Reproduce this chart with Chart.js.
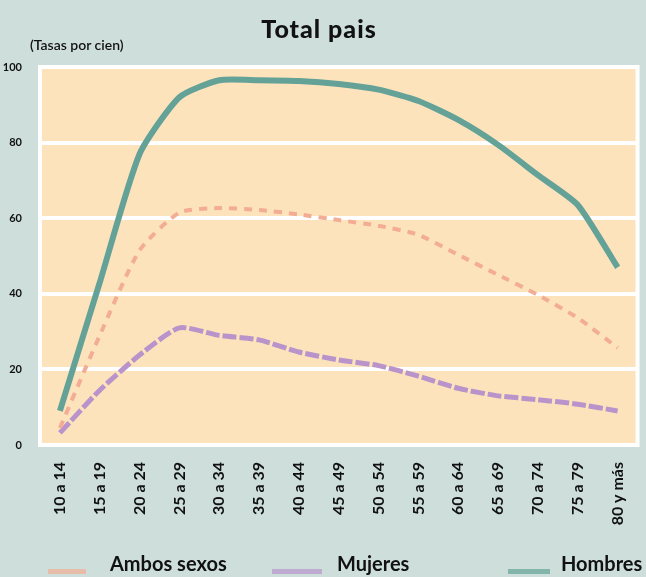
<!DOCTYPE html>
<html>
<head>
<meta charset="utf-8">
<script src="https://cdn.jsdelivr.net/npm/chart.js@4/dist/chart.umd.min.js"></script>
<style>
  html, body { margin: 0; padding: 0; background: #cedfdb; }
  #wrap { position: relative; width: 646px; height: 577px; font-family: Lato, "Open Sans", sans-serif; color: #111; overflow: hidden; }
  #chart { position: absolute; left: 0; top: 0; }
  .title { position: absolute; left: 0; width: 638px; top: 13px; text-align: center; font-weight: 900; font-size: 25px; letter-spacing: 1px; }
  .sub { position: absolute; left: 30px; top: 36px; font-size: 14px; font-weight: 600; }
  .leg { position: absolute; top: 551px; font-weight: 700; font-size: 20px; white-space: nowrap; }
  .sw { position: absolute; top: 569px; height: 5px; }
</style>
</head>
<body>
<div id="wrap">
  <canvas id="chart" width="646" height="577"></canvas>
  <div class="title">Total pais</div>
  <div class="sub">(Tasas por cien)</div>
  <div id="legend"></div>
</div>
<script>
const categories = ['10 a 14', '15 a 19', '20 a 24', '25 a 29', '30 a 34', '35 a 39', '40 a 44',
  '45 a 49', '50 a 54', '55 a 59', '60 a 64', '65 a 69', '70 a 74', '75 a 79', '80 y más'];
const ambosSexos = [4.5, 29, 51.5, 61.5, 62.7, 62.2, 61, 59.5, 58, 55.6, 50.3, 45, 39.7, 33.6, 25.7];
const mujeres = [3.2, 14.5, 23.8, 31, 29, 27.8, 24.6, 22.5, 21, 18.2, 15, 13, 12, 10.8, 9];
const hombres = [9, 43, 77, 92, 96.5, 96.5, 96.3, 95.5, 94, 91, 86, 79.4, 71.4, 63.5, 47];
const yTicks = [0, 20, 40, 60, 80, 100];

const series = [
  { label: 'Ambos sexos', data: ambosSexos, color: '#f2ad94', width: 4, dash: [8, 7] },
  { label: 'Mujeres', data: mujeres, color: '#b994cb', width: 5, dash: [14, 3] },
  { label: 'Hombres', data: hombres, color: '#64a297', width: 6, dash: [] }
];

const plotBg = {
  id: 'plotBg',
  beforeDraw(chart) {
    const { ctx, chartArea: a } = chart;
    ctx.save();
    ctx.fillStyle = '#fde3bc';
    ctx.fillRect(a.left, a.top, a.right - a.left, a.bottom - a.top);
    ctx.restore();
  },
  beforeDatasetsDraw(chart) {
    const { ctx, chartArea: a } = chart;
    ctx.save();
    ctx.strokeStyle = '#ffffff';
    ctx.lineWidth = 4;
    ctx.strokeRect(a.left, a.top, a.right - a.left, a.bottom - a.top);
    ctx.restore();
  }
};

new Chart(document.getElementById('chart'), {
  type: 'line',
  data: {
    labels: categories,
    datasets: series.map(s => ({
      label: s.label,
      data: s.data,
      borderColor: s.color,
      borderWidth: s.width,
      borderDash: s.dash,
      pointRadius: 0,
      tension: 0.2,
      fill: false
    }))
  },
  options: {
    responsive: false,
    animation: false,
    layout: { padding: { top: 67, right: 5, bottom: 42, left: 0 } },
    plugins: { legend: { display: false }, tooltip: { enabled: false } },
    scales: {
      x: {
        offset: true,
        grid: { display: false },
        border: { display: false },
        afterFit: s => { s.height = 90; },
        ticks: {
          minRotation: 90, maxRotation: 90, padding: 9,
          color: '#111', font: { family: 'Lato', weight: 'bold', size: 16 }
        }
      },
      y: {
        min: 0, max: 100,
        afterFit: s => { s.width = 40; },
        afterBuildTicks: s => { s.ticks = yTicks.map(v => ({ value: v })); },
        grid: { color: '#ffffff', lineWidth: 4, drawTicks: false },
        border: { display: false },
        ticks: {
          padding: 18,
          color: '#111', font: { family: 'Lato', weight: 'bold', size: 11 }
        }
      }
    }
  },
  plugins: [plotBg]
});

// legend
const legendPos = [
  { sw: 48, swW: 38, text: 110 },
  { sw: 272, swW: 50, text: 337 },
  { sw: 508, swW: 42, text: 561 }
];
const legend = document.getElementById('legend');
series.forEach((s, i) => {
  const p = legendPos[i];
  const sw = document.createElement('div');
  sw.className = 'sw';
  sw.style.left = p.sw + 'px';
  sw.style.width = p.swW + 'px';
  sw.style.background = s.color;
  sw.style.opacity = '0.7';
  legend.appendChild(sw);
  const t = document.createElement('div');
  t.className = 'leg';
  t.style.left = p.text + 'px';
  t.textContent = s.label;
  legend.appendChild(t);
});
</script>
</body>
</html>
